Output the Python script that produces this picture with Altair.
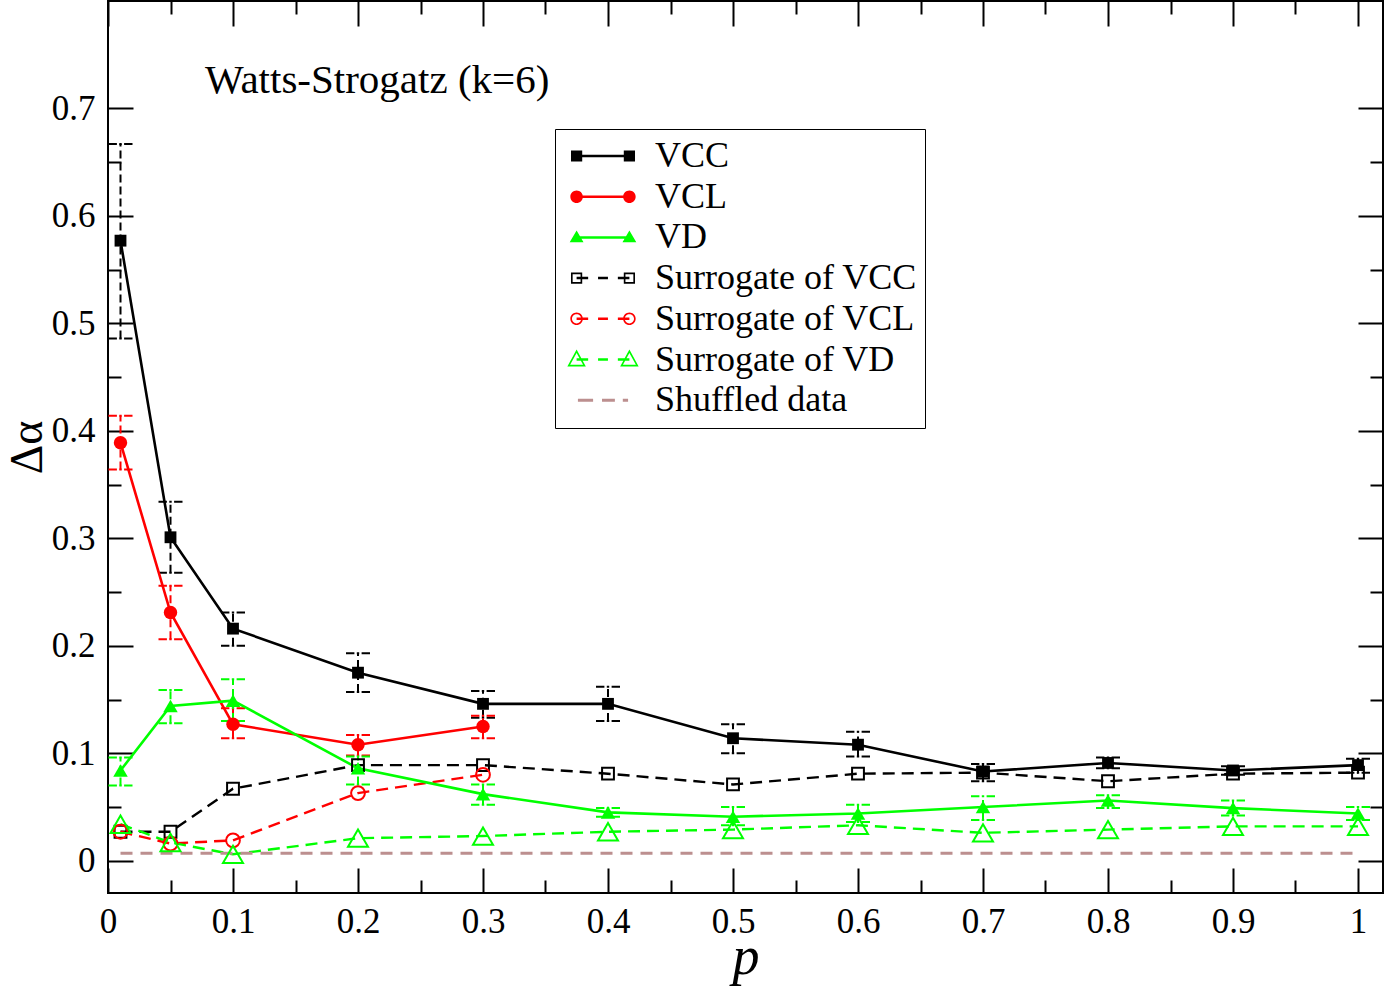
import altair as alt
import pandas as pd

FONT = "Liberation Serif"

# ---------------- data ----------------
p_all = [0.01, 0.05, 0.1, 0.2, 0.3, 0.4, 0.5, 0.6, 0.7, 0.8, 0.9, 1.0]
p_vcl = [0.01, 0.05, 0.1, 0.2, 0.3]
p_shuffled = [0.01, 1.0]

vcc = [0.577, 0.301, 0.216, 0.175, 0.146, 0.146, 0.114, 0.108, 0.083, 0.091, 0.084, 0.089]
vcc_lo = [0.486, 0.268, 0.200, 0.157, 0.133, 0.130, 0.100, 0.097, 0.074, 0.086, 0.080, 0.082]
vcc_hi = [0.667, 0.334, 0.231, 0.193, 0.158, 0.162, 0.127, 0.120, 0.090, 0.096, 0.088, 0.095]

vcl = [0.389, 0.231, 0.127, 0.108, 0.125]
vcl_lo = [0.364, 0.206, 0.114, 0.098, 0.114]
vcl_hi = [0.414, 0.256, 0.142, 0.117, 0.135]

vd = [0.084, 0.144, 0.149, 0.086, 0.062, 0.045, 0.041, 0.044, 0.050, 0.056, 0.049, 0.044]
vd_lo = [0.070, 0.128, 0.130, 0.071, 0.052, 0.041, 0.033, 0.036, 0.038, 0.049, 0.042, 0.038]
vd_hi = [0.096, 0.159, 0.169, 0.097, 0.071, 0.049, 0.050, 0.052, 0.060, 0.061, 0.056, 0.050]

surr_vcc = [0.027, 0.027, 0.067, 0.089, 0.089, 0.081, 0.071, 0.081, 0.082, 0.074, 0.081, 0.082]
surr_vcl = [0.027, 0.016, 0.019, 0.063, 0.080]
surr_vd = [0.034, 0.017, 0.006, 0.021, 0.023, 0.027, 0.029, 0.033, 0.026, 0.029, 0.032, 0.032]
shuffled = [0.007, 0.007]

series_names = ["VCC", "VCL", "VD", "Surrogate of VCC", "Surrogate of VCL",
                "Surrogate of VD", "Shuffled data"]
x_major = [0, 0.1, 0.2, 0.3, 0.4, 0.5, 0.6, 0.7, 0.8, 0.9, 1.0]
x_minor = [0.05, 0.15, 0.25, 0.35, 0.45, 0.55, 0.65, 0.75, 0.85, 0.95]
y_major = [0, 0.1, 0.2, 0.3, 0.4, 0.5, 0.6, 0.7]
y_minor = [0.05, 0.15, 0.25, 0.35, 0.45, 0.55, 0.65]
annotation = "Watts-Strogatz (k=6)"
x_title = "p"
y_title = "Δα"

rows = []


def add(name, xs, ys, lo=None, hi=None):
    for i, (x, y) in enumerate(zip(xs, ys)):
        rows.append({"series": name, "p": x, "value": y,
                     "lo": lo[i] if lo else None, "hi": hi[i] if hi else None})


add("VCC", p_all, vcc, vcc_lo, vcc_hi)
add("VCL", p_vcl, vcl, vcl_lo, vcl_hi)
add("VD", p_all, vd, vd_lo, vd_hi)
add("Surrogate of VCC", p_all, surr_vcc)
add("Surrogate of VCL", p_vcl, surr_vcl)
add("Surrogate of VD", p_all, surr_vd)
add("Shuffled data", p_shuffled, shuffled)
df = pd.DataFrame(rows)

# ---------------- styles ----------------
BLACK, RED, GREEN, BROWN = "#000000", "#ff0000", "#00ff00", "#bc8f8f"
colors = [BLACK, RED, GREEN, BLACK, RED, GREEN, BROWN]
style = {
    "VCC": dict(color=BLACK, dash=None, shape="square", filled=True, size=140),
    "VCL": dict(color=RED, dash=None, shape="circle", filled=True, size=180),
    "VD": dict(color=GREEN, dash=None, shape="triangle-up", filled=True, size=210),
    "Surrogate of VCC": dict(color=BLACK, dash=[12, 7], shape="square", filled=False, size=140),
    "Surrogate of VCL": dict(color=RED, dash=[12, 7], shape="circle", filled=False, size=190),
    "Surrogate of VD": dict(color=GREEN, dash=[12, 7], shape="triangle-up", filled=False, size=400),
    "Shuffled data": dict(color=BROWN, dash=[12, 8], shape=None, filled=False, size=0),
}

xscale = alt.Scale(domain=[0, 1.02], nice=False, zero=False)
yscale = alt.Scale(domain=[-0.03, 0.8], nice=False, zero=False)


def X(axis=None):
    return alt.X("p:Q", scale=xscale, axis=axis)


def Y(field="value", axis=None):
    return alt.Y(f"{field}:Q", scale=yscale, axis=axis)


def base(name):
    return alt.Chart(df).transform_filter(alt.datum.series == name)


# ---------------- legend glyphs (fill-only paths, units: 1 = 33 px) ----------------
def f(v):
    return f"{v:.3f}".rstrip("0").rstrip(".") if v != 0 else "0"


def rect(x0, y0, x1, y1):
    return f"M{f(x0)},{f(y0)}H{f(x1)}V{f(y1)}H{f(x0)}Z"


def rect_ccw(x0, y0, x1, y1):
    return f"M{f(x0)},{f(y0)}V{f(y1)}H{f(x1)}V{f(y0)}Z"


def hline(x0, x1, t=0.038):
    return rect(x0, -t, x1, t)


def sq(cx, h, ring=None):
    s = rect(cx - h, -h, cx + h, h)
    if ring:
        s += rect_ccw(cx - h + ring, -h + ring, cx + h - ring, h - ring)
    return s


def circ(cx, r, ring=None):
    s = f"M{f(cx - r)},0A{f(r)},{f(r)} 0 1,1 {f(cx + r)},0A{f(r)},{f(r)} 0 1,1 {f(cx - r)},0Z"
    if ring:
        ri = r - ring
        s += f"M{f(cx - ri)},0A{f(ri)},{f(ri)} 0 1,0 {f(cx + ri)},0A{f(ri)},{f(ri)} 0 1,0 {f(cx - ri)},0Z"
    return s


def tri(cx, hw, top, bot, ring=None):
    s = f"M{f(cx)},{f(top)}L{f(cx + hw)},{f(bot)}L{f(cx - hw)},{f(bot)}Z"
    if ring:
        cy = (top + 2 * bot) / 3
        k = ring

        def pt(x, y):
            return cx + k * (x - cx), cy + k * (y - cy)
        a = pt(cx, top)
        l = pt(cx - hw, bot)
        r = pt(cx + hw, bot)
        s += f"M{f(a[0])},{f(a[1])}L{f(l[0])},{f(l[1])}L{f(r[0])},{f(r[1])}Z"
    return s


C = 0.8
solid_line = hline(-C, C)
dash_line = hline(-C, -0.45) + hline(-0.15, 0.15) + hline(0.45, C)
glyphs = [
    sq(-C, 0.17) + solid_line + sq(C, 0.17),
    circ(-C, 0.19) + solid_line + circ(C, 0.19),
    tri(-C, 0.21, -0.21, 0.15) + solid_line + tri(C, 0.21, -0.21, 0.15),
    sq(-C, 0.17, 0.05) + dash_line + sq(C, 0.17, 0.05),
    circ(-C, 0.19, 0.05) + dash_line + circ(C, 0.19, 0.05),
    tri(-C, 0.28, -0.3, 0.21, 0.7) + dash_line + tri(C, 0.28, -0.3, 0.21, 0.7),
    hline(-0.76, -0.3, 0.045) + hline(-0.03, 0.36, 0.045) + hline(0.6, 0.76, 0.045),
]

cap_shape = "M-1,0H-0.3M-0.1,0H0.1M0.3,0H1"

# ---------------- layers ----------------
lines_bg, lines_fg, points_bg, points_fg, errs = [], [], [], [], []
for name in series_names:
    st = style[name]
    kw = dict(color=st["color"], strokeWidth=2.6 if st["dash"] is None else 2.4)
    if st["dash"] is not None:
        kw["strokeDash"] = st["dash"]
    if name == "Shuffled data":
        kw["strokeWidth"] = 3
    line = base(name).mark_line(**kw).encode(x=X(), y=Y())
    (lines_fg if st["dash"] is None else lines_bg).append(line)
    if st["shape"]:
        pkw = dict(shape=st["shape"], size=st["size"], opacity=1)
        if st["filled"]:
            pkw.update(filled=True, color=st["color"])
        else:
            pkw.update(filled=False, color=st["color"], strokeWidth=2)
        pts = base(name).mark_point(**pkw).encode(x=X(), y=Y())
        (points_fg if st["filled"] else points_bg).append(pts)
    if st["dash"] is None:
        errs.append(base(name).mark_rule(color=st["color"], strokeWidth=2, strokeDash=[8, 4])
                    .encode(x=X(), y=Y("lo"), y2="hi:Q"))
        for end in ["lo", "hi"]:
            errs.append(base(name).mark_point(shape=cap_shape, size=576, filled=False,
                                              color=st["color"], strokeWidth=2, opacity=1)
                        .encode(x=X(), y=Y(end)))

leg = alt.Legend(title=None, orient="none", legendX=447, legendY=128, padding=8,
                 strokeColor="black", fillColor="white",
                 labelFont=FONT, labelFontSize=36, labelColor="black", labelLimit=600,
                 symbolSize=4356, symbolStrokeWidth=0, symbolOpacity=1,
                 clipHeight=38, rowPadding=2.7, symbolOffset=7, labelOffset=19)

legend_layer = alt.Chart(df).mark_point(filled=True, opacity=0).encode(
    x=X(), y=Y(),
    color=alt.Color("series:N", scale=alt.Scale(domain=series_names, range=colors), legend=leg),
    shape=alt.Shape("series:N", scale=alt.Scale(domain=series_names, range=glyphs), legend=leg),
)

axis_common = dict(domain=False, grid=False, tickColor="black", tickWidth=2,
                   labelFont=FONT, labelFontSize=35, labelColor="black")

ax_bottom = alt.Axis(orient="bottom", values=x_major, format="~g", offset=-25, tickSize=25,
                     labelPadding=11, labelFlush=False, title=x_title, titleFont=FONT,
                     titleFontSize=54, titleFontStyle="italic", titleFontWeight="normal",
                     titleColor="black", titleX=637.5, titleY=105, titleBaseline="alphabetic",
                     **axis_common)
ax_left = alt.Axis(orient="left", values=y_major, format="~g", offset=-25, tickSize=25,
                   labelPadding=13, title=y_title, titleFont=FONT, titleFontSize=46,
                   titleFontWeight="normal", titleColor="black", titleAngle=270,
                   titleX=-92, titleY=446, titleBaseline="alphabetic", **axis_common)
ax_bottom_minor = alt.Axis(orient="bottom", values=x_minor, offset=-13, tickSize=13,
                           labels=False, title=None, **axis_common)
ax_left_minor = alt.Axis(orient="left", values=y_minor, offset=-13, tickSize=13,
                         labels=False, title=None, **axis_common)
ax_top = alt.Axis(orient="top", values=x_major, offset=-25, tickSize=25,
                  labels=False, title=None, **axis_common)
ax_right = alt.Axis(orient="right", values=y_major, offset=-25, tickSize=25,
                    labels=False, title=None, **axis_common)
ax_top_minor = alt.Axis(orient="top", values=x_minor, offset=-13, tickSize=13,
                        labels=False, title=None, **axis_common)
ax_right_minor = alt.Axis(orient="right", values=y_minor, offset=-13, tickSize=13,
                          labels=False, title=None, **axis_common)

shuf = base("Shuffled data")
axis_layers = [
    shuf.mark_point(opacity=0).encode(x=X(ax_bottom), y=Y(axis=ax_left)),
    shuf.mark_point(opacity=0).encode(x=X(ax_bottom_minor), y=Y(axis=ax_left_minor)),
    shuf.mark_point(opacity=0).encode(x=X(ax_top), y=Y(axis=ax_right)),
    shuf.mark_point(opacity=0).encode(x=X(ax_top_minor), y=Y(axis=ax_right_minor)),
]

text_layer = alt.Chart(pd.DataFrame({"t": [annotation]})).mark_text(
    align="left", baseline="alphabetic", font=FONT, fontSize=41, color="black"
).encode(text="t:N", x=alt.value(97), y=alt.value(92))

chart = alt.layer(
    *axis_layers, *lines_bg, *errs, *lines_fg, *points_bg, *points_fg, legend_layer, text_layer
).resolve_axis(x="independent", y="independent").properties(
    width=1275, height=892,
    autosize=alt.AutoSizeParams(type="none"),
    padding={"left": 108, "top": 1, "right": 3, "bottom": 93},
).configure(background="white").configure_view(stroke="black", strokeWidth=2)

chart.save("out.html", embed_options={"renderer": "svg", "actions": False})
